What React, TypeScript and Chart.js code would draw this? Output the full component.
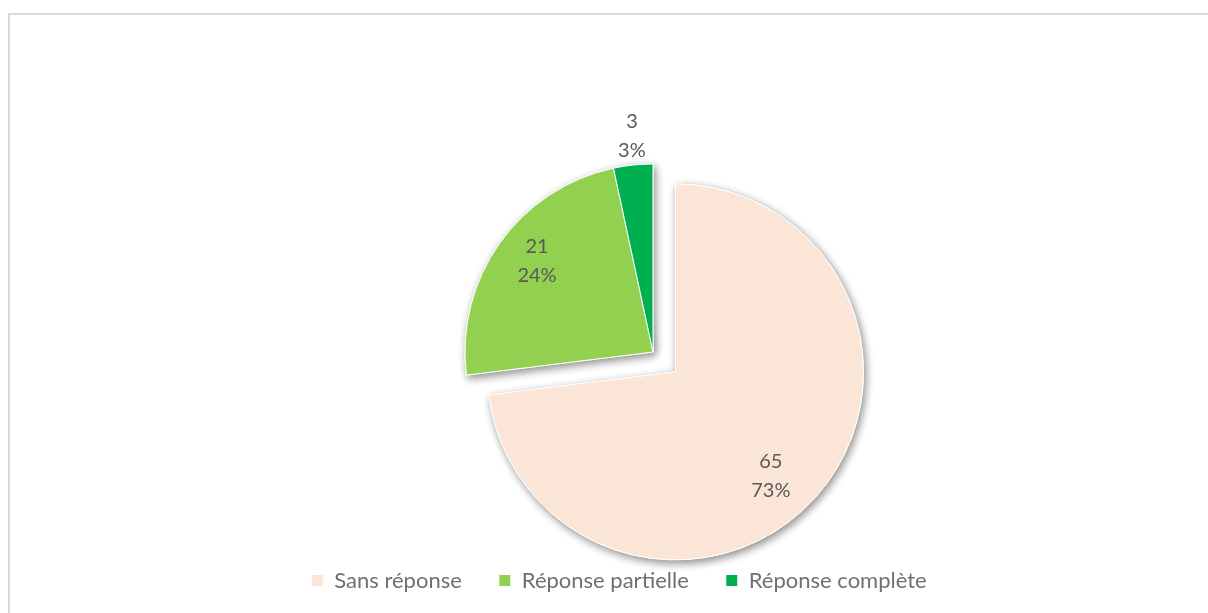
import React, { useEffect, useRef } from 'react';
import { Chart, registerables } from 'chart.js';

Chart.register(...registerables);

const categories = ['Sans réponse', 'Réponse partielle', 'Réponse complète'];
const counts = [65, 21, 3];
const sliceColors = ['#FBE5D6', '#92D050', '#00B050'];
const explodeDistance = [30, 0, 0];
const labelRadiusFactor = [0.75, 0.787, 1.155];
const labelAngleShiftDeg = [6, 3, 0.5];

const total = counts.reduce((a, b) => a + b, 0);
const percentLabels = counts.map((v) => Math.round((v / total) * 100) + '%');

const shiftOf = (arc: any, i: number) => {
  const mid = (arc.startAngle + arc.endAngle) / 2;
  const d = explodeDistance[i] || 0;
  return [Math.cos(mid) * d, Math.sin(mid) * d];
};

const slicePlugin = {
  id: 'explodedSlices',
  beforeDatasetDraw(chart: any, args: any) {
    const ctx = chart.ctx;
    const arcs = args.meta.data;
    arcs.forEach((arc: any, i: number) => {
      const [dx, dy] = shiftOf(arc, i);
      ctx.save();
      ctx.shadowColor = 'rgba(0,0,0,0.45)';
      ctx.shadowBlur = 8;
      ctx.shadowOffsetX = 2;
      ctx.shadowOffsetY = 3;
      ctx.translate(dx, dy);
      arc.draw(ctx);
      ctx.restore();
    });
    arcs.forEach((arc: any, i: number) => {
      const [dx, dy] = shiftOf(arc, i);
      ctx.save();
      ctx.translate(dx, dy);
      arc.draw(ctx);
      ctx.restore();
    });
    return false;
  },
  afterDatasetsDraw(chart: any) {
    const ctx = chart.ctx;
    const arcs = chart.getDatasetMeta(0).data;
    ctx.save();
    ctx.font = '20px Lato';
    ctx.fillStyle = '#595959';
    ctx.textAlign = 'center';
    ctx.textBaseline = 'middle';
    arcs.forEach((arc: any, i: number) => {
      const [dx, dy] = shiftOf(arc, i);
      const mid = (arc.startAngle + arc.endAngle) / 2 + (labelAngleShiftDeg[i] * Math.PI) / 180;
      const r = arc.outerRadius * labelRadiusFactor[i];
      const x = arc.x + dx + Math.cos(mid) * r;
      const y = arc.y + dy + Math.sin(mid) * r;
      ctx.fillText(String(counts[i]), x, y - 14);
      ctx.fillText(percentLabels[i], x, y + 15);
    });
    ctx.restore();
  },
};

export default function App() {
  const canvasRef = useRef<HTMLCanvasElement | null>(null);

  useEffect(() => {
    document.documentElement.style.overflow = 'hidden';
    document.body.style.overflow = 'hidden';
    if (!canvasRef.current) return;
    const chart = new Chart(canvasRef.current, {
      type: 'pie',
      data: {
        labels: categories,
        datasets: [
          {
            data: counts,
            backgroundColor: sliceColors,
            borderColor: '#ffffff',
            borderWidth: 1,
          },
        ],
      },
      options: {
        responsive: false,
        animation: false,
        radius: 188,
        layout: { padding: { left: 30, right: 0, top: 171.5, bottom: 11.5 } },
        plugins: {
          title: {
            display: true,
            position: 'left',
            text: '',
            font: { size: 10, lineHeight: 1 },
            padding: { top: 0, bottom: 58 },
          },
          tooltip: { enabled: false },
          legend: {
            position: 'bottom',
            labels: {
              boxWidth: 12,
              boxHeight: 12,
              padding: 37,
              color: '#707070',
              font: { family: 'Lato', size: 22 },
            },
          },
        },
      } as any,
      plugins: [slicePlugin as any],
    });
    return () => chart.destroy();
  }, []);

  return (
    <div style={{ position: 'fixed', left: 0, top: 0, width: 1208, height: 613, overflow: 'hidden', background: '#fff' }}>
      <div style={{ position: 'absolute', left: 8, top: 13, width: 1200, height: 2, background: '#d9d9d9' }} />
      <div style={{ position: 'absolute', left: 8, top: 13, width: 2, height: 600, background: '#d9d9d9' }} />
      <canvas ref={canvasRef} width={1208} height={613} style={{ position: 'absolute', left: 0, top: 0 }} />
    </div>
  );
}
